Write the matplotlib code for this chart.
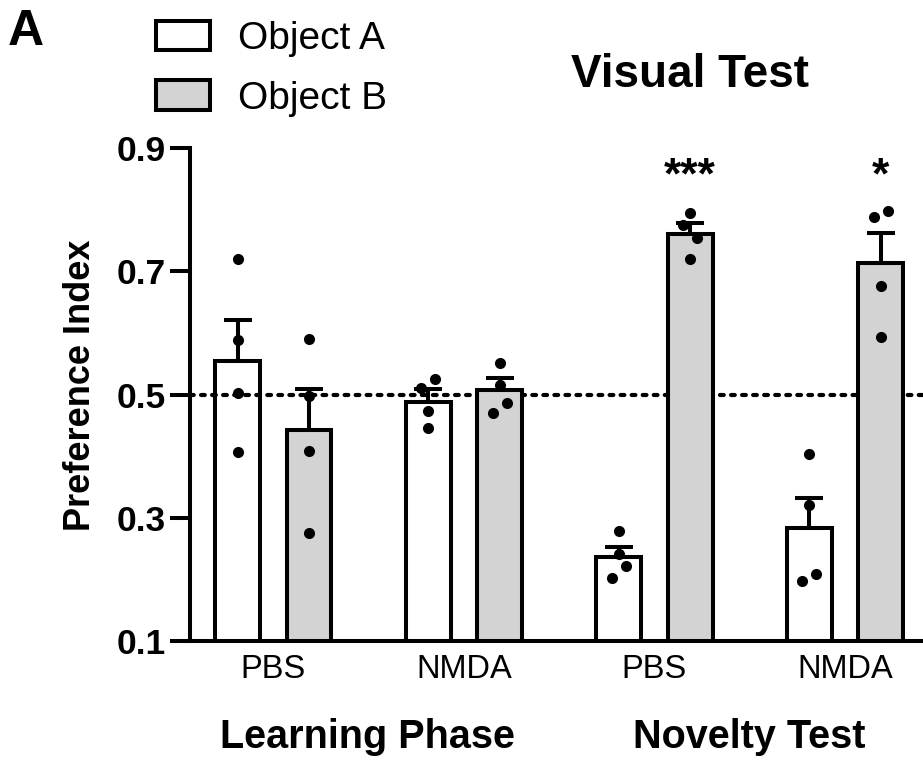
import numpy as np
import matplotlib.pyplot as plt
from matplotlib.patches import Patch

plt.rcParams['font.family'] = ['Liberation Sans', 'DejaVu Sans']

# groups along the x axis
groups = ['PBS', 'NMDA', 'PBS', 'NMDA']
phases = ['Learning Phase', 'Novelty Test']
series = ['Object A', 'Object B']

# mean and SEM of the preference index per group
mean_a = [0.555, 0.488, 0.237, 0.283]
sem_a = [0.066, 0.021, 0.015, 0.049]
mean_b = [0.442, 0.507, 0.761, 0.714]
sem_b = [0.067, 0.020, 0.017, 0.049]

# individual animals
pts_a = [[0.721, 0.588, 0.502, 0.407],
         [0.525, 0.510, 0.474, 0.446],
         [0.278, 0.242, 0.222, 0.202],
         [0.403, 0.321, 0.209, 0.198]]
pts_b = [[0.590, 0.497, 0.409, 0.275],
         [0.552, 0.516, 0.487, 0.471],
         [0.795, 0.775, 0.755, 0.720],
         [0.798, 0.788, 0.677, 0.594]]
# side-by-side nudge for overlapping points (-1 left, 0 centre, 1 right)
nudge_a = [[0, 0, 0, 0], [1, -1, 0, 0], [0, 0, 1, -1], [0, 0, 1, -1]]
nudge_b = [[0, 0, 0, 0], [0, 0, 1, -1], [0, -1, 1, 0], [1, -1, 0, 0]]

stars = ['', '', '***', '*']

W, H = 923, 762
fig = plt.figure(figsize=(W / 100, H / 100), dpi=100)
ax = fig.add_axes([190 / W, 121 / H, 733 / W, 492.7 / H])

x = np.arange(len(groups))
off = 0.1876
width = 0.235
lw = 2.9
grey = '#d3d3d3'

ax.axhline(0.5, color='black', lw=3.0, linestyle=(0, (0.9, 1.75)),
           dash_capstyle='round', zorder=1)

ax.bar(x - off, mean_a, width, facecolor='none', edgecolor='black', lw=lw, zorder=2)
ax.bar(x + off, mean_b, width, facecolor=grey, edgecolor='black', lw=lw, zorder=2)

for xs, m, s in [(x - off, mean_a, sem_a), (x + off, mean_b, sem_b)]:
    ax.errorbar(xs, m, yerr=[np.zeros(len(m)), s], fmt='none', ecolor='black',
                elinewidth=2.9, capsize=10, capthick=2.9, zorder=3)

jit = 0.037
for xs, pts, nud in [(x - off, pts_a, nudge_a), (x + off, pts_b, nudge_b)]:
    for xi, p, n in zip(xs, pts, nud):
        ax.scatter(xi + jit * np.array(n), p, s=64, color='black', zorder=4, lw=0)

for xi, st in zip(x + off, stars):
    if st:
        ax.text(xi, 0.835, st, ha='center', va='baseline', fontsize=32,
                fontweight='bold')

ax.set_xlim(-0.437, 3.409)
ax.set_ylim(0.1, 0.9)
ax.set_yticks([0.1, 0.3, 0.5, 0.7, 0.9])
ax.set_yticklabels(['0.1', '0.3', '0.5', '0.7', '0.9'], fontsize=25.5, fontweight='bold')
ax.set_xticks(x)
ax.set_xticklabels(groups, fontsize=23.5)
ax.tick_params(axis='y', length=14.5, width=2.9, pad=3)
ax.tick_params(axis='x', length=0, pad=9)
ax.spines['top'].set_visible(False)
ax.spines['right'].set_visible(False)
ax.spines['left'].set_linewidth(2.9)
ax.spines['bottom'].set_linewidth(2.9)

ax.set_ylabel('Preference Index', fontsize=26, fontweight='bold')
ax.yaxis.set_label_coords(-0.125, 0.52)

fig.text(367 / W, 1 - 748 / H, phases[0], ha='center', va='baseline',
         fontsize=28.5, fontweight='bold')
fig.text(749 / W, 1 - 748 / H, phases[1], ha='center', va='baseline',
         fontsize=28.5, fontweight='bold')
fig.text(690 / W, 1 - 87 / H, 'Visual Test', ha='center', va='baseline',
         fontsize=33, fontweight='bold')
fig.text(8 / W, 1 - 45 / H, 'A', ha='left', va='baseline', fontsize=36,
         fontweight='bold')

handles = [Patch(facecolor='white', edgecolor='black', lw=2.9),
           Patch(facecolor=grey, edgecolor='black', lw=2.9)]
fig.legend(handles, series, loc='upper left', bbox_to_anchor=(156 / W, 1 - 21 / H),
           frameon=False, fontsize=28, handlelength=1.4, handleheight=0.78,
           handletextpad=0.72, labelspacing=0.6, borderpad=0, borderaxespad=0)

fig.savefig('out.png', dpi=100)
